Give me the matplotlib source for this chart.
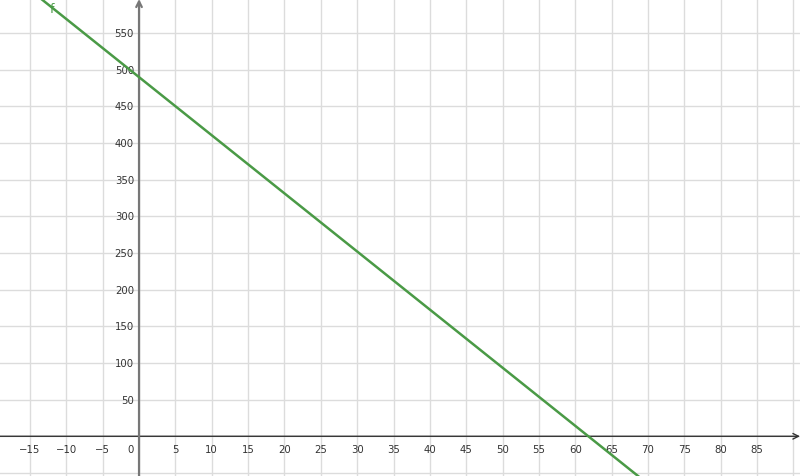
import numpy as np
import matplotlib.pyplot as plt

# f(x) = a + b*x
f_intercept = 490
f_slope = -7.93

x_ticks = [-15, -10, -5, 0, 5, 10, 15, 20, 25, 30, 35, 40, 45, 50, 55, 60, 65, 70, 75, 80, 85]
y_ticks = [50, 100, 150, 200, 250, 300, 350, 400, 450, 500, 550]
grid_x = list(range(-15, 95, 5))
grid_y = list(range(-50, 650, 50))

fig = plt.figure(figsize=(8, 4.77), dpi=100)
ax = fig.add_axes([0, 0, 1, 1])
xmin, xmax = -19.12, 90.9
ymin, ymax = -54.2, 596.6
ax.set_xlim(xmin, xmax)
ax.set_ylim(ymin, ymax)
ax.axis('off')

for gx in grid_x:
    ax.axvline(gx, color='#dcdcdc', lw=1, zorder=1)
for gy in grid_y:
    ax.axhline(gy, color='#dcdcdc', lw=1, zorder=1)

# axes with arrows
ax.annotate('', xy=(xmax, 0), xytext=(xmin, 0),
            arrowprops=dict(arrowstyle='->', color='#333333', lw=1, shrinkA=0, shrinkB=0), zorder=3)
ax.annotate('', xy=(0, ymax), xytext=(0, ymin),
            arrowprops=dict(arrowstyle='->', color='#777777', lw=1.6, shrinkA=0, shrinkB=0), zorder=3)

for t in x_ticks:
    label = str(t).replace('-', '\u2212')
    xpos = t if t != 0 else -1.1
    ax.text(xpos, -10, label, ha='center', va='top', fontsize=7.3, color='#333333', zorder=4)
for t in y_ticks:
    ax.text(-0.7, t, str(t), ha='right', va='center', fontsize=7.3, color='#333333', zorder=4)

xs = np.linspace(xmin, xmax, 200)
ax.plot(xs, f_intercept + f_slope * xs, color='#4a9a46', lw=1.8, zorder=5)
ax.text(-12.0, 584, 'f', color='#4a9a46', fontsize=9, ha='center', va='center', zorder=5)

fig.savefig('out.png', dpi=100)
